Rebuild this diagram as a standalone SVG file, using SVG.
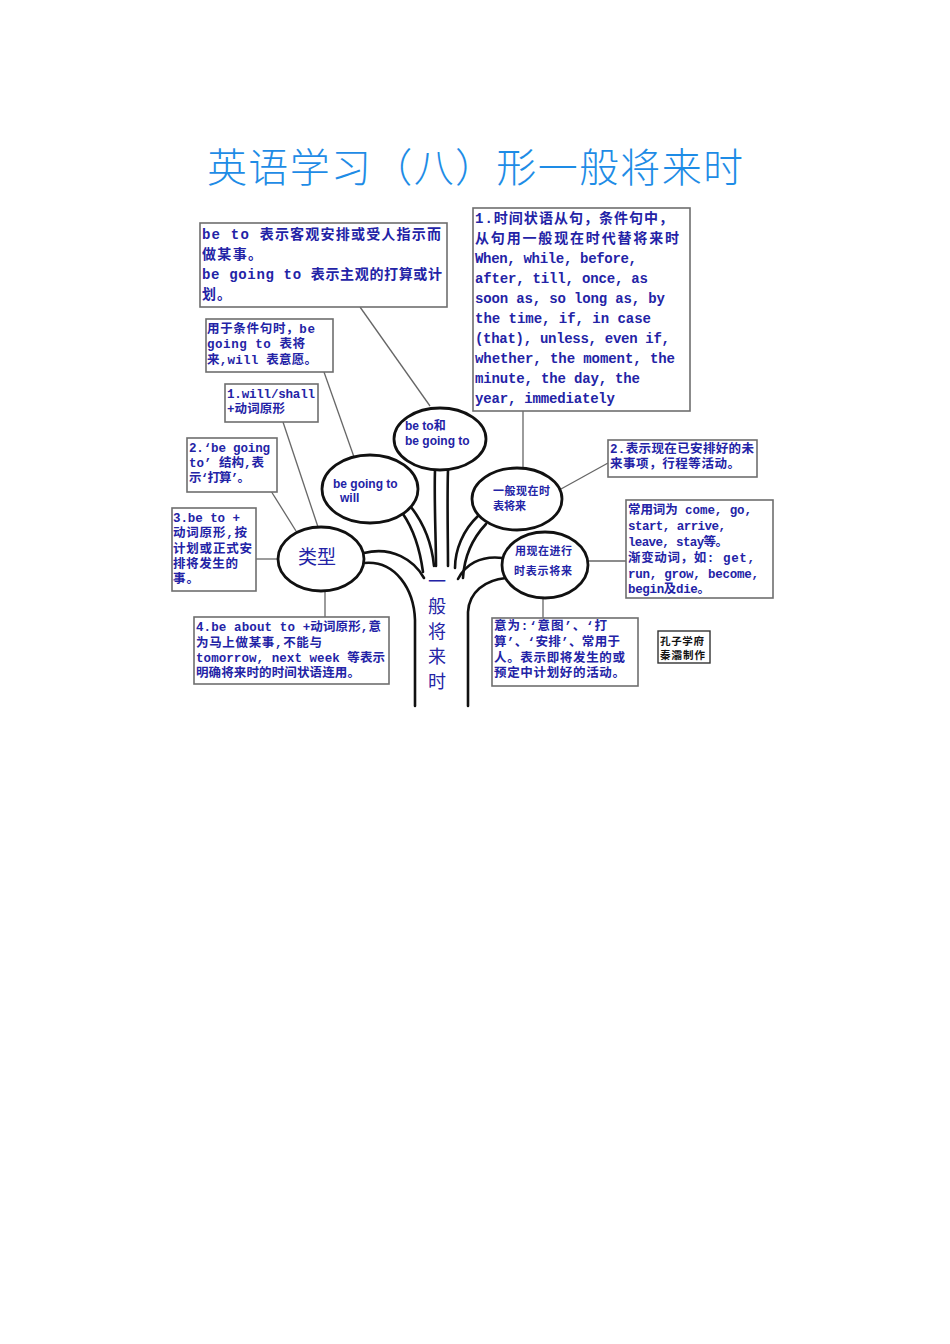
<svg xmlns="http://www.w3.org/2000/svg" width="950" height="1344" viewBox="0 0 950 1344">
<style>
.bg{fill:#ffffff}
.title{font-family:"Noto Sans CJK SC","Liberation Serif",serif;font-weight:300;font-size:40px;fill:#1e8ce6}
.box{fill:#ffffff;stroke:#6e6e6e;stroke-width:1.6}
.bt{font-family:"Liberation Mono","Noto Sans CJK SC",monospace;font-weight:bold;fill:#2323a6}
.f14{font-size:14px}
.f12{font-size:12.5px}
.ell{fill:#ffffff;stroke:#111111;stroke-width:2.8}
.et{font-family:"Liberation Sans","Noto Sans CJK SC",sans-serif;font-weight:bold;font-size:12px;fill:#2323a6}
.ec{font-family:"Noto Sans CJK SC",sans-serif;font-weight:bold;font-size:11px;fill:#2323a6}
.conn{stroke:#666666;stroke-width:1.3;fill:none}
.tree{stroke:#111111;stroke-width:2.6;fill:none;stroke-linecap:round}
.trunkt{font-family:"Noto Sans CJK SC",serif;font-size:18px;fill:#2323a6;text-anchor:middle}
.kt{font-family:"Noto Sans CJK SC",sans-serif;font-weight:bold;font-size:10.5px;fill:#111111}
</style>
<rect class="bg" x="0" y="0" width="950" height="1344"/>
<text class="title" x="207" y="182" textLength="536" lengthAdjust="spacing">英语学习（八）形一般将来时</text>

<g id="connectors">
<line class="conn" x1="360" y1="307" x2="430" y2="406"/>
<line class="conn" x1="324" y1="372" x2="354" y2="457"/>
<line class="conn" x1="283" y1="422" x2="318" y2="527"/>
<line class="conn" x1="271" y1="491" x2="296" y2="531"/>
<line class="conn" x1="256" y1="559" x2="279" y2="559"/>
<line class="conn" x1="325" y1="589" x2="325" y2="617"/>
<line class="conn" x1="523" y1="411" x2="523" y2="467"/>
<line class="conn" x1="608" y1="463" x2="561" y2="489"/>
<line class="conn" x1="588" y1="561" x2="626" y2="561"/>
<line class="conn" x1="543" y1="597" x2="543" y2="618"/>
</g>

<g id="tree">
<path class="tree" d="M364,553 C392,546 414,560 424,578"/>
<path class="tree" d="M364,563 C396,560 414,590 415,620 L415,706"/>
<path class="tree" d="M403,514 C414,530 420,550 423,572"/>
<path class="tree" d="M411,507 C425,525 432,545 434,566"/>
<path class="tree" d="M435,470 C434,500 436,540 436,566"/>
<path class="tree" d="M448,470 C447,500 448,540 448,566"/>
<path class="tree" d="M478,516 C463,530 455,550 455,568"/>
<path class="tree" d="M486,524 C471,540 464,560 463,578"/>
<path class="tree" d="M503,558 C480,555 465,565 458,579"/>
<path class="tree" d="M506,578 C485,580 469,592 468,612 L468,706"/>
</g>

<g id="trunk-label">
<text class="trunkt" x="437" y="588">一</text>
<text class="trunkt" x="437" y="613">般</text>
<text class="trunkt" x="437" y="638">将</text>
<text class="trunkt" x="437" y="663">来</text>
<text class="trunkt" x="437" y="688">时</text>
</g>

<g id="node-beto">
<ellipse class="ell" cx="440" cy="439" rx="46" ry="31"/>
<text class="et" x="405" y="430">be to和</text>
<text class="et" x="405" y="445">be going to</text>
</g>

<g id="node-begoing-will">
<ellipse class="ell" cx="370" cy="489" rx="48" ry="34"/>
<text class="et" x="333" y="488">be going to</text>
<text class="et" x="340" y="502">will</text>
</g>

<g id="node-types">
<ellipse class="ell" cx="321" cy="559" rx="43" ry="32"/>
<text x="298" y="564" style="font-family:'Noto Sans CJK SC',sans-serif;font-size:19px;fill:#2323a6">类型</text>
</g>

<g id="node-simple-present">
<ellipse class="ell" cx="517" cy="499" rx="45" ry="31"/>
<text class="ec" x="493" y="495" textLength="57" lengthAdjust="spacing">一般现在时</text>
<text class="ec" x="493" y="510" textLength="33" lengthAdjust="spacing">表将来</text>
</g>

<g id="node-present-progressive">
<ellipse class="ell" cx="545" cy="565" rx="43" ry="33"/>
<text class="ec" x="515" y="555" textLength="57" lengthAdjust="spacing">用现在进行</text>
<text class="ec" x="514" y="575" textLength="58" lengthAdjust="spacing">时表示将来</text>
</g>

<g id="box-a">
<rect class="box" x="200" y="223" width="247" height="84"/>
<text class="bt f14" x="202" y="239" textLength="239" lengthAdjust="spacing">be to 表示客观安排或受人指示而</text>
<text class="bt f14" x="202" y="259" textLength="60" lengthAdjust="spacing">做某事。</text>
<text class="bt f14" x="202" y="279" textLength="240" lengthAdjust="spacing">be going to 表示主观的打算或计</text>
<text class="bt f14" x="202" y="299" textLength="29" lengthAdjust="spacing">划。</text>
</g>

<g id="box-b">
<rect class="box" x="473" y="208" width="217" height="203"/>
<text class="bt f14" x="475" y="223" textLength="198" lengthAdjust="spacing">1.时间状语从句，条件句中，</text>
<text class="bt f14" x="475" y="243" textLength="204" lengthAdjust="spacing">从句用一般现在时代替将来时</text>
<text class="bt f14" x="475" y="263" textLength="162" lengthAdjust="spacing">When, while, before,</text>
<text class="bt f14" x="475" y="283" textLength="173" lengthAdjust="spacing">after, till, once, as</text>
<text class="bt f14" x="475" y="303" textLength="190" lengthAdjust="spacing">soon as, so long as, by</text>
<text class="bt f14" x="475" y="323" textLength="176" lengthAdjust="spacing">the time, if, in case</text>
<text class="bt f14" x="475" y="343" textLength="195" lengthAdjust="spacing">(that), unless, even if,</text>
<text class="bt f14" x="475" y="363" textLength="200" lengthAdjust="spacing">whether, the moment, the</text>
<text class="bt f14" x="475" y="383" textLength="165" lengthAdjust="spacing">minute, the day, the</text>
<text class="bt f14" x="475" y="403" textLength="140" lengthAdjust="spacing">year, immediately</text>
</g>

<g id="box-c">
<rect class="box" x="206" y="319" width="127" height="53"/>
<text class="bt f12" x="207" y="333" textLength="108" lengthAdjust="spacing">用于条件句时，be</text>
<text class="bt f12" x="207" y="348" textLength="98" lengthAdjust="spacing">going to  表将</text>
<text class="bt f12" x="207" y="364" textLength="110" lengthAdjust="spacing">来,will  表意愿。</text>
</g>

<g id="box-d">
<rect class="box" x="225" y="384" width="93" height="38"/>
<text class="bt f12" x="227" y="398" textLength="88" lengthAdjust="spacing">1.will/shall</text>
<text class="bt f12" x="227" y="413" textLength="58" lengthAdjust="spacing">+动词原形</text>
</g>

<g id="box-e">
<rect class="box" x="187" y="438" width="90" height="54"/>
<text class="bt f12" x="189" y="452" textLength="81" lengthAdjust="spacing">2.‘be going</text>
<text class="bt f12" x="189" y="467" textLength="75" lengthAdjust="spacing">to’ 结构,表</text>
<text class="bt f12" x="189" y="482" textLength="61" lengthAdjust="spacing">示‘打算’。</text>
</g>

<g id="box-f">
<rect class="box" x="172" y="508" width="84" height="83"/>
<text class="bt f12" x="173" y="522" textLength="67" lengthAdjust="spacing">3.be to +</text>
<text class="bt f12" x="173" y="537" textLength="74" lengthAdjust="spacing">动词原形,按</text>
<text class="bt f12" x="173" y="553" textLength="79" lengthAdjust="spacing">计划或正式安</text>
<text class="bt f12" x="173" y="568" textLength="65" lengthAdjust="spacing">排将发生的</text>
<text class="bt f12" x="173" y="583" textLength="26" lengthAdjust="spacing">事。</text>
</g>

<g id="box-g">
<rect class="box" x="194" y="617" width="195" height="67"/>
<text class="bt f12" x="196" y="631" textLength="185" lengthAdjust="spacing">4.be about to +动词原形,意</text>
<text class="bt f12" x="196" y="647" textLength="126" lengthAdjust="spacing">为马上做某事,不能与</text>
<text class="bt f12" x="196" y="662" textLength="189" lengthAdjust="spacing">tomorrow, next week 等表示</text>
<text class="bt f12" x="196" y="677" textLength="164" lengthAdjust="spacing">明确将来时的时间状语连用。</text>
</g>

<g id="box-h">
<rect class="box" x="608" y="440" width="149" height="37"/>
<text class="bt f12" x="610" y="453" textLength="144" lengthAdjust="spacing">2.表示现在已安排好的未</text>
<text class="bt f12" x="610" y="468" textLength="130" lengthAdjust="spacing">来事项，行程等活动。</text>
</g>

<g id="box-i">
<rect class="box" x="626" y="500" width="147" height="98"/>
<text class="bt f12" x="628" y="514" textLength="124" lengthAdjust="spacing">常用词为 come, go,</text>
<text class="bt f12" x="628" y="530" textLength="98" lengthAdjust="spacing">start, arrive,</text>
<text class="bt f12" x="628" y="546" textLength="100" lengthAdjust="spacing">leave, stay等。</text>
<text class="bt f12" x="628" y="562" textLength="127" lengthAdjust="spacing">渐变动词，如: get,</text>
<text class="bt f12" x="628" y="578" textLength="131" lengthAdjust="spacing">run, grow, become,</text>
<text class="bt f12" x="628" y="593" textLength="82" lengthAdjust="spacing">begin及die。</text>
</g>

<g id="box-j">
<rect class="box" x="492" y="618" width="146" height="68"/>
<text class="bt f12" x="494" y="630" textLength="113" lengthAdjust="spacing">意为:‘意图’、‘打</text>
<text class="bt f12" x="494" y="646" textLength="126" lengthAdjust="spacing">算’、‘安排’、常用于</text>
<text class="bt f12" x="494" y="662" textLength="131" lengthAdjust="spacing">人。表示即将发生的或</text>
<text class="bt f12" x="494" y="677" textLength="131" lengthAdjust="spacing">预定中计划好的活动。</text>
</g>

<g id="box-k">
<rect x="658" y="631" width="52" height="32" style="fill:#ffffff;stroke:#333333;stroke-width:1.4"/>
<text class="kt" x="660" y="645" textLength="44" lengthAdjust="spacing">孔子学府</text>
<text class="kt" x="660" y="659" textLength="45" lengthAdjust="spacing">秦灞制作</text>
</g>
</svg>
